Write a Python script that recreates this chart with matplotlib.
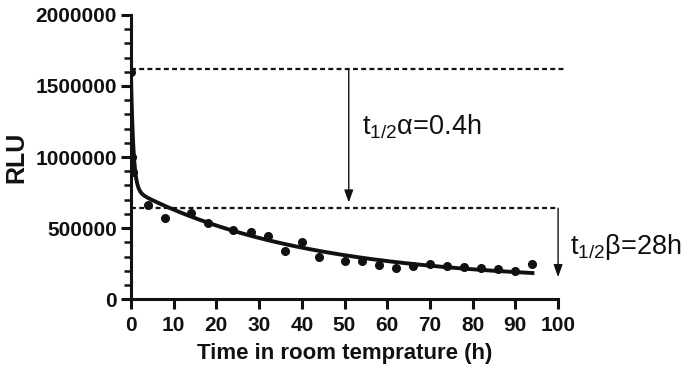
import numpy as np
import matplotlib
matplotlib.use('Agg')
import matplotlib.pyplot as plt
from matplotlib.ticker import MultipleLocator, FuncFormatter

plt.rcParams['font.family'] = ['Liberation Sans', 'DejaVu Sans']
plt.rcParams['mathtext.default'] = 'regular'

# measured luminescence (RLU) vs time at room temperature (h)
time_h = [0, 0.25, 0.5, 4, 8, 14, 18, 24, 28, 32, 36, 40, 44, 50, 54, 58,
          62, 66, 70, 74, 78, 82, 86, 90, 94]
rlu = [1600000, 1000000, 895000, 660000, 570000, 605000, 535000, 490000,
       470000, 445000, 340000, 400000, 300000, 265000, 270000, 240000,
       222000, 232000, 245000, 232000, 225000, 220000, 210000, 200000, 250000]

# two-phase decay fit, half-lives as stated on the chart
half_alpha = 0.4
half_beta = 28.0
amp_fast = 827000
amp_slow = 653000
plateau = 120000

top_level = 1620000
mid_level = 640000

t = np.linspace(0, 94, 600)
fit = (amp_fast * np.exp(-np.log(2) / half_alpha * t)
       + amp_slow * np.exp(-np.log(2) / half_beta * t) + plateau)

fig = plt.figure(figsize=(6.89, 3.73), dpi=100)
ax = fig.add_axes([0.190, 0.198, 0.620, 0.762])

ax.plot(t, fit, '-', color='#111111', lw=2.8, zorder=3)
ax.plot(time_h, rlu, 'o', color='#111111', ms=5.5, zorder=4)

ax.plot([0, 101.6], [top_level, top_level], ls=(0, (2.2, 1.5)), color='#111111',
        lw=1.6, clip_on=False)
ax.plot([0, 100], [mid_level, mid_level], ls=(0, (2.2, 1.5)), color='#111111',
        lw=1.6, clip_on=False)

arrow = dict(arrowstyle='-|>,head_length=0.75,head_width=0.27', color='#111111',
             lw=1.0, shrinkA=0, shrinkB=0)
ax.annotate('', xy=(51, 680000), xytext=(51, top_level), arrowprops=arrow,
            annotation_clip=False)
ax.annotate('', xy=(100, 155000), xytext=(100, mid_level), arrowprops=arrow,
            annotation_clip=False)

ax.text(54, 1210000, 't$_{1/2}$α=0.4h', fontsize=19.5, va='center', ha='left',
        color='#111111')
ax.text(102.8, 366000, 't$_{1/2}$β=28h', fontsize=19.5, va='center', ha='left',
        color='#111111', clip_on=False)

ax.set_xlim(0, 100)
ax.set_ylim(0, 2000000)
ax.xaxis.set_major_locator(MultipleLocator(10))
ax.yaxis.set_major_locator(MultipleLocator(500000))
ax.yaxis.set_minor_locator(MultipleLocator(100000))
ax.yaxis.set_major_formatter(FuncFormatter(lambda v, p: '%d' % v))

for s in ['top', 'right']:
    ax.spines[s].set_visible(False)
for s in ['left', 'bottom']:
    ax.spines[s].set_linewidth(2.2)
    ax.spines[s].set_color('#111111')

ax.tick_params(axis='both', which='major', length=7, width=2.2, color='#111111',
               labelsize=15, pad=3)
ax.tick_params(axis='x', which='major', pad=5)
ax.tick_params(axis='y', which='minor', length=5, width=1.8, color='#111111')
for lab in ax.get_xticklabels() + ax.get_yticklabels():
    lab.set_fontweight('bold')
    lab.set_color('#111111')

ax.set_xlabel('Time in room temprature (h)', fontsize=16, fontweight='bold',
              color='#111111', labelpad=6)
ax.set_ylabel('RLU', fontsize=18, fontweight='bold', color='#111111', labelpad=5)

fig.savefig('out.png', dpi=100)
